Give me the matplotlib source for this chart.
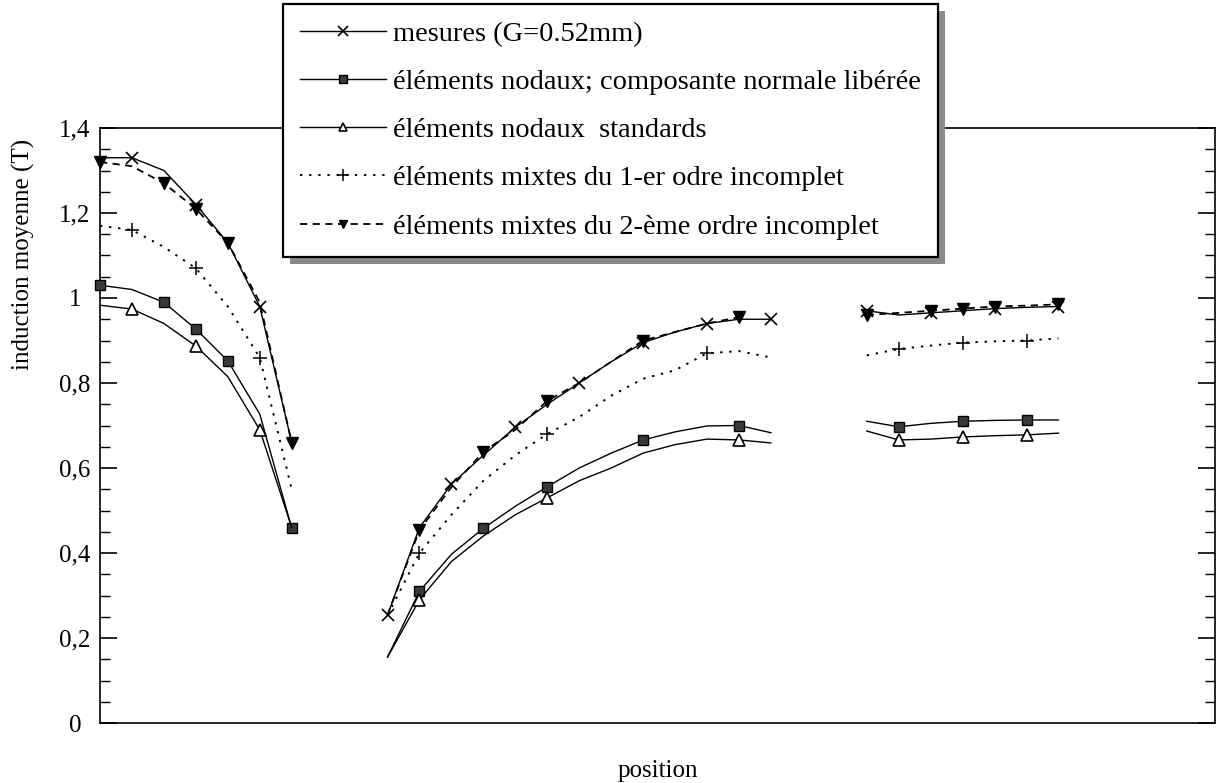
import numpy as np
import matplotlib
matplotlib.use('Agg')
import matplotlib.pyplot as plt
from matplotlib.ticker import MultipleLocator, FixedLocator, FuncFormatter
from matplotlib.patches import Rectangle

plt.rcParams['font.family'] = ['Liberation Serif', 'DejaVu Serif']

nan = np.nan
# measurement positions along the path (index of the sampling point)
pos = np.arange(0, 31)

mesures = [1.33, 1.33, 1.30, 1.22, 1.13, 0.98, 0.66, nan, nan,
           0.254, 0.46, 0.562, 0.63, 0.696, 0.75, 0.80, 0.85, 0.895, 0.92, 0.94, 0.95, 0.95,
           nan, nan, 0.97, 0.96, 0.965, 0.97, 0.975, 0.978, 0.98]
nodaux_lib = [1.03, 1.02, 0.99, 0.927, 0.852, 0.727, 0.459, nan, nan,
              0.155, 0.31, 0.397, 0.458, 0.51, 0.556, 0.60, 0.635, 0.666, 0.685, 0.699, 0.70, 0.683,
              nan, nan, 0.71, 0.697, 0.705, 0.71, 0.712, 0.713, 0.713]
nodaux_std = [0.983, 0.974, 0.94, 0.887, 0.815, 0.69, 0.46, nan, nan,
              0.155, 0.29, 0.38, 0.44, 0.49, 0.53, 0.57, 0.60, 0.635, 0.655, 0.668, 0.666, 0.659,
              nan, nan, 0.687, 0.666, 0.668, 0.673, 0.676, 0.678, 0.682]
mixtes_1 = [1.17, 1.16, 1.12, 1.07, 0.98, 0.86, 0.55, nan, nan,
            0.254, 0.40, 0.49, 0.57, 0.63, 0.68, 0.72, 0.77, 0.81, 0.83, 0.87, 0.875, 0.86,
            nan, nan, 0.865, 0.88, 0.888, 0.895, 0.898, 0.90, 0.905]
mixtes_2 = [1.32, 1.31, 1.27, 1.21, 1.13, 0.99, 0.66, nan, nan,
            0.254, 0.454, 0.555, 0.638, 0.69, 0.758, 0.80, 0.85, 0.90, 0.92, 0.94, 0.955, nan,
            nan, nan, 0.96, 0.965, 0.97, 0.975, 0.98, 0.982, 0.985]

mk_mesures = [1, 3, 5, 9, 11, 13, 15, 17, 19, 21, 24, 26, 28, 30]
mk_lib = [0, 2, 3, 4, 6, 10, 12, 14, 17, 20, 25, 27, 29]
mk_std = [1, 3, 5, 10, 14, 20, 25, 27, 29]
mk_m1 = [1, 3, 5, 10, 14, 19, 25, 27, 29]
mk_m2 = [0, 2, 3, 4, 6, 10, 12, 14, 17, 20, 24, 26, 27, 28, 30]

labels = ["mesures (G=0.52mm)",
          "éléments nodaux; composante normale libérée",
          "éléments nodaux  standards",
          "éléments mixtes du 1-er odre incomplet",
          "éléments mixtes du 2-ème ordre incomplet"]

yticks = [0, 0.2, 0.4, 0.6, 0.8, 1.0, 1.2, 1.4]

fig = plt.figure(figsize=(12.16, 7.83), dpi=100)
ax = fig.add_axes([100/1216, 60/783, 1115/1216, 595/783])

lw = 1.0
h1, = ax.plot(pos, mesures, color='black', lw=lw, marker='x', ms=9, mew=1.2,
              markevery=mk_mesures, clip_on=False, label=labels[0], zorder=4)
h2, = ax.plot(pos, nodaux_lib, color='black', lw=lw, marker='s', ms=7.5, mfc='#3a3a3a',
              mec='black', markevery=mk_lib, clip_on=False, label=labels[1], zorder=4)
h3, = ax.plot(pos, nodaux_std, color='black', lw=lw, marker='^', ms=8, mfc='white',
              mec='black', mew=1.2, markevery=mk_std, clip_on=False, label=labels[2], zorder=4)
h4, = ax.plot(pos, mixtes_1, color='black', lw=1.4, ls=(0, (1.2, 3.5)), marker='+', ms=10,
              mew=1.1, markevery=mk_m1, clip_on=False, label=labels[3], zorder=4)
h5, = ax.plot(pos, mixtes_2, color='black', lw=1.3, ls=(0, (4, 3)), marker='v', ms=8,
              mfc='black', mec='black', markevery=mk_m2, clip_on=False, label=labels[4], zorder=4)

ax.set_xlim(0, 34.9)
ax.set_ylim(0, 1.4)
ax.yaxis.set_major_locator(FixedLocator(yticks))
ax.yaxis.set_minor_locator(MultipleLocator(0.05))
ax.yaxis.set_major_formatter(FuncFormatter(
    lambda v, p: ('%g' % round(v, 2)).replace('.', ',')))
ax.set_xticks([])
ax.tick_params(axis='y', which='major', direction='in', length=12, width=1.2,
               right=True, labelsize=18, pad=18)
ax.tick_params(axis='y', which='minor', direction='in', length=7, width=1.0, right=True)
for lab in ax.get_yticklabels():
    lab.set_horizontalalignment('center')
for s in ax.spines.values():
    s.set_linewidth(1.2)

ax.set_xlabel('position', fontsize=18, labelpad=27)
ax.set_ylabel('induction moyenne (T)', fontsize=18)
ax.yaxis.set_label_coords(-0.058, 0.787)

leg = ax.legend(handles=[h1, h2, h3, h4, h5], loc='upper left',
                bbox_to_anchor=(283/1216, 1 - 4/783), bbox_transform=fig.transFigure,
                borderaxespad=0, fontsize=20.5, frameon=True, fancybox=False,
                edgecolor='black', framealpha=1, handlelength=3.0, handletextpad=0.25,
                labelspacing=0.78, borderpad=0.6, markerscale=0.8)
leg.get_frame().set_linewidth(1.6)

fig.canvas.draw()
bb = leg.get_window_extent().transformed(fig.transFigure.inverted())
off_x = 7/1216
off_y = 7/783
shadow = Rectangle((bb.x0 + off_x, bb.y0 - off_y), bb.width, bb.height,
                   transform=fig.transFigure, facecolor='#8a8a8a', edgecolor='none',
                   zorder=9)
fig.add_artist(shadow)
leg.remove()
fig.add_artist(leg)
leg.set_zorder(11)

fig.savefig('out.png', dpi=100)
